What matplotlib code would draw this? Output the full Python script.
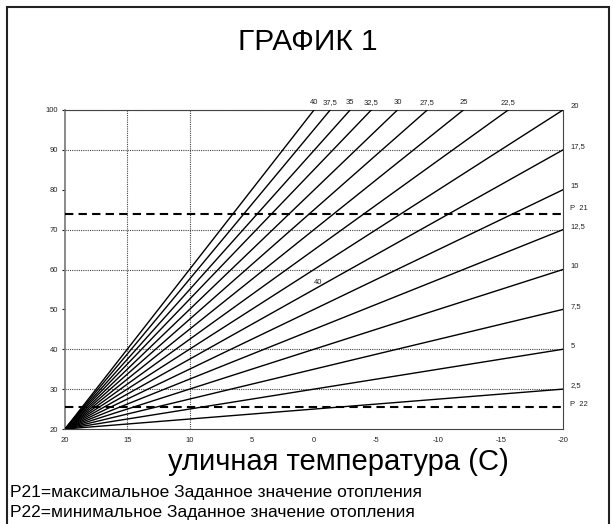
import matplotlib
matplotlib.use("Agg")
import matplotlib.pyplot as plt
from matplotlib.patches import Rectangle

plt.rcParams['font.family'] = ['Liberation Sans', 'DejaVu Sans']

# Curve labels and end points (all curves start at outdoor 20 / flow 20)
curve_labels = ['2,5', '5', '7,5', '10', '12,5', '15', '17,5', '20',
                '22,5', '25', '27,5', '30', '32,5', '35', '37,5', '40']
start_x = 20
start_y = 20
end_x = [-20, -20, -20, -20, -20, -20, -20, -20,
         -15.6, -12.0, -9.1, -6.7, -4.6, -2.9, -1.3, 0.0]
end_y = [30, 40, 50, 60, 70, 80, 90, 100,
         100, 100, 100, 100, 100, 100, 100, 100]

p21_value = 74
p22_value = 25.5

x_ticks = [20, 15, 10, 5, 0, -5, -10, -15, -20]
y_ticks = [20, 30, 40, 50, 60, 70, 80, 90, 100]
grid_y = [30, 40, 60, 70, 90, 100]
grid_x = [15, 10]

W, H = 614, 524
fig = plt.figure(figsize=(W / 100, H / 100), dpi=100)

# outer frame
fig.add_artist(Rectangle((7 / W, -0.02), (609 - 7) / W, 1.02 - 7 / H,
                         transform=fig.transFigure, fill=False,
                         edgecolor='#222222', linewidth=1.5))

ax = fig.add_axes([65 / W, (H - 429) / H, (563 - 65) / W, (429 - 110) / H])
ax.set_xlim(20, -20)
ax.set_ylim(20, 100)

for gy in grid_y:
    ax.axhline(gy, color='#444444', lw=0.8, ls=(0, (1, 1)), zorder=1)
for gx in grid_x:
    ax.axvline(gx, color='#444444', lw=0.8, ls=(0, (1, 1)), zorder=1)

for lab, ex, ey in zip(curve_labels, end_x, end_y):
    ax.plot([start_x, ex], [start_y, ey], color='black', lw=1.0, zorder=3)

ax.axhline(p21_value, color='black', lw=1.5, ls=(0, (4, 2.5)), zorder=4)
ax.axhline(p22_value, color='black', lw=1.5, ls=(0, (4, 2.5)), zorder=4)

small = dict(fontsize=5.5, color='#222222')
for lab, ex, ey in zip(curve_labels, end_x, end_y):
    if ex <= -20 + 1e-9:
        ax.text(-20.6, ey + 0.8, lab, ha='left', va='center', clip_on=False, **small)
    else:
        ax.text(ex, 101.8, lab, ha='center', va='center', clip_on=False, **small)
ax.text(-20.6, p21_value + 1.2, 'P  21', ha='left', va='center', clip_on=False, **small)
ax.text(-20.6, p22_value + 0.6, 'P  22', ha='left', va='center', clip_on=False, **small)
ax.text(-0.3, 56.8, '40', ha='center', va='center', **small)

ax.set_xticks(x_ticks)
ax.set_xticklabels([str(t) for t in x_ticks])
ax.set_yticks(y_ticks)
ax.set_yticklabels([str(t) for t in y_ticks])
ax.tick_params(axis='x', length=0, labelsize=5.5, pad=6, colors='#222222')
ax.tick_params(axis='y', length=2, labelsize=5.5, pad=3, colors='#222222')

ax.spines['left'].set_color('#777777')
ax.spines['left'].set_linewidth(1.2)
for s in ['right', 'bottom', 'top']:
    ax.spines[s].set_color('#444444')
    ax.spines[s].set_linewidth(0.8)
    ax.spines[s].set_linestyle((0, (1, 1)))

fig.text(308 / W, 1 - 42 / H, 'ГРАФИК 1', ha='center', va='center', fontsize=21.5)
fig.text(338 / W, 1 - 462 / H, 'уличная температура (С)', ha='center', va='center', fontsize=21)
fig.text(10 / W, 1 - 493 / H, 'P21=максимальное Заданное значение отопления',
         ha='left', va='center', fontsize=12.5)
fig.text(10 / W, 1 - 513 / H, 'P22=минимальное Заданное значение отопления',
         ha='left', va='center', fontsize=12.5)

fig.savefig('out.png', dpi=100)
